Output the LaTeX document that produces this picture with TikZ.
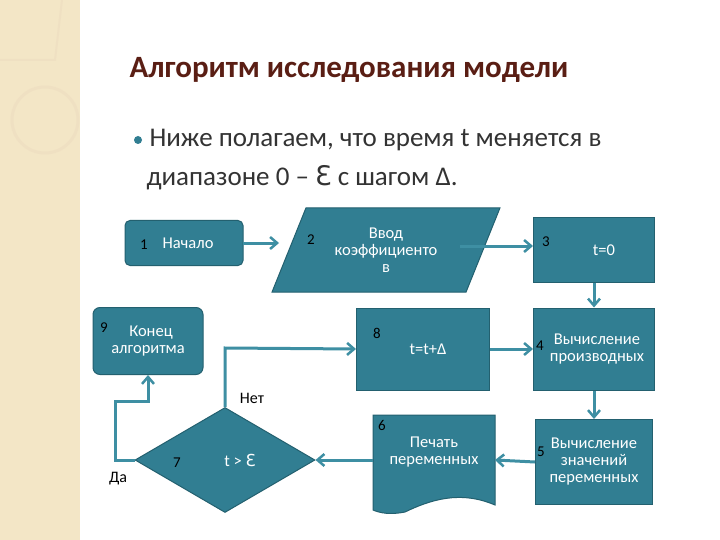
\documentclass[tikz,border=0pt]{standalone}
\usepackage{fontspec}
\setmainfont{Carlito}
\newfontfamily\djfont{DejaVu Sans}
\usetikzlibrary{shapes.geometric,arrows.meta}
\definecolor{teal1}{HTML}{317E92}
\definecolor{teal2}{HTML}{23606F}
\definecolor{arr}{HTML}{3E8FA3}
\definecolor{beige}{HTML}{F3E6C6}
\definecolor{ttl}{HTML}{5A1E14}
\tikzset{
 blk/.style={fill=teal1,draw=teal2,line width=1pt,text=white,font=\fontsize{16.5}{17}\selectfont,align=center},
 num/.style={text=black,font=\fontsize{15}{15}\selectfont},
 con/.style={draw=arr,line width=3pt,-{Straight Barb[length=7pt,width=12pt,line width=2.5pt]}},
 lbl/.style={font=\fontsize{16}{17}\selectfont}
}
\begin{document}
\begin{tikzpicture}[x=1pt,y=-1pt]
\useasboundingbox (0,0) rectangle (720,540);
\fill[white] (0,0) rectangle (720,540);
\fill[beige] (0,0) rectangle (80,540);
\draw[beige!60!brown!60,line width=3pt,opacity=0.4] (45,120) circle (33);
\draw[beige!60!brown!60,line width=2pt,opacity=0.4] (0,60) -- (55,60) -- (62,0);
\node[anchor=west,text=ttl,font=\fontsize{31}{33}\selectfont\bfseries] (title) at (126,70) {Алгоритм исследования модели};
\fill[teal1] (138,140) circle (4);
\node[anchor=west,font=\fontsize{27}{29}\selectfont,text=black!80] (l1) at (146,140) {Ниже полагаем, что время t меняется в};
\node[anchor=west,font=\fontsize{27}{29}\selectfont,text=black!80] (l2) at (143,178) {диапазоне 0 – {\djfont Ɛ} с шагом Δ.};
% nodes
\node[blk,rounded corners=5pt,minimum width=118pt,minimum height=45pt] (n1) at (184,243) {\hspace{8pt}Начало};
\node[num] at (144,245) {1};
\node[blk,trapezium,trapezium left angle=64,trapezium right angle=116,minimum width=228pt,minimum height=84pt,inner sep=0pt,trapezium stretches=true] (n2) at (386,250) {Ввод\\коэффициенто\\в};
\node[num] at (311,240) {2};
\node[blk,minimum width=121pt,minimum height=64pt] (n3) at (594,250) {\hspace{20pt}t=0};
\node[num] at (546,242) {3};
\node[blk,minimum width=121pt,minimum height=82pt] (n4) at (594,349) {\hspace{6pt}Вычисление\\\hspace{6pt}производных};
\node[num] at (540,346) {4};
\node[blk,minimum width=133pt,minimum height=82pt] (n8) at (423,349) {\hspace{10pt}t=t+Δ};
\node[num] at (377,333) {8};
\node[blk,rounded corners=7pt,minimum width=110pt,minimum height=67pt] (n9) at (148,341) {\hspace{6pt}Конец\\алгоритма};
\node[num] at (104,328) {9};
\node[blk,minimum width=117pt,minimum height=85pt] (n5) at (594,462) {Вычисление\\значений\\переменных};
\node[num] at (541,452) {5};
\fill[teal1,draw=teal2,line width=1pt] (373,415) -- (495,415) -- (495,505) .. controls (460,490) and (430,500) .. (405,512) .. controls (390,515) and (380,513) .. (373,510) -- cycle;
\node[text=white,font=\fontsize{16.5}{17}\selectfont,align=center] (n6) at (434,452) {Печать\\переменных};
\coordinate (n6e) at (495,460);
\coordinate (n6w) at (373,460);
\node[num] at (382,425) {6};
\node[blk,diamond,aspect=1.75,minimum width=180pt,minimum height=105pt,inner sep=0pt] (n7) at (225,460) {\hspace{30pt}t > {\djfont Ɛ}};
\node[num] at (177,463) {7};
\node[lbl] (no) at (252,398) {Нет};
\node[lbl] (yes) at (118,479) {Да};
% connectors
\coordinate (a1) at (243,243);
\coordinate (a2) at (279,243);
\coordinate (b1) at (460,246);
\coordinate (b2) at (533,246);
\draw[con] (a1) -- (a2);
\draw[con] (b1) -- (b2);
\draw[con] (n3.south) -- (n4.north);
\draw[con] (n8.east) -- (n4.west);
\draw[con] (n4.south) -- (n5.north);
\draw[con] (n5.west) -- (n6e);
\draw[con] (n6w) -- (n7.east);
\draw[con] (n7.north) -- (225,348) -- (n8.west);
\draw[con] (n7.west) -- (115,460) -- (115,401) -- (148,401) -- (n9.south);
\end{tikzpicture}
\end{document}
